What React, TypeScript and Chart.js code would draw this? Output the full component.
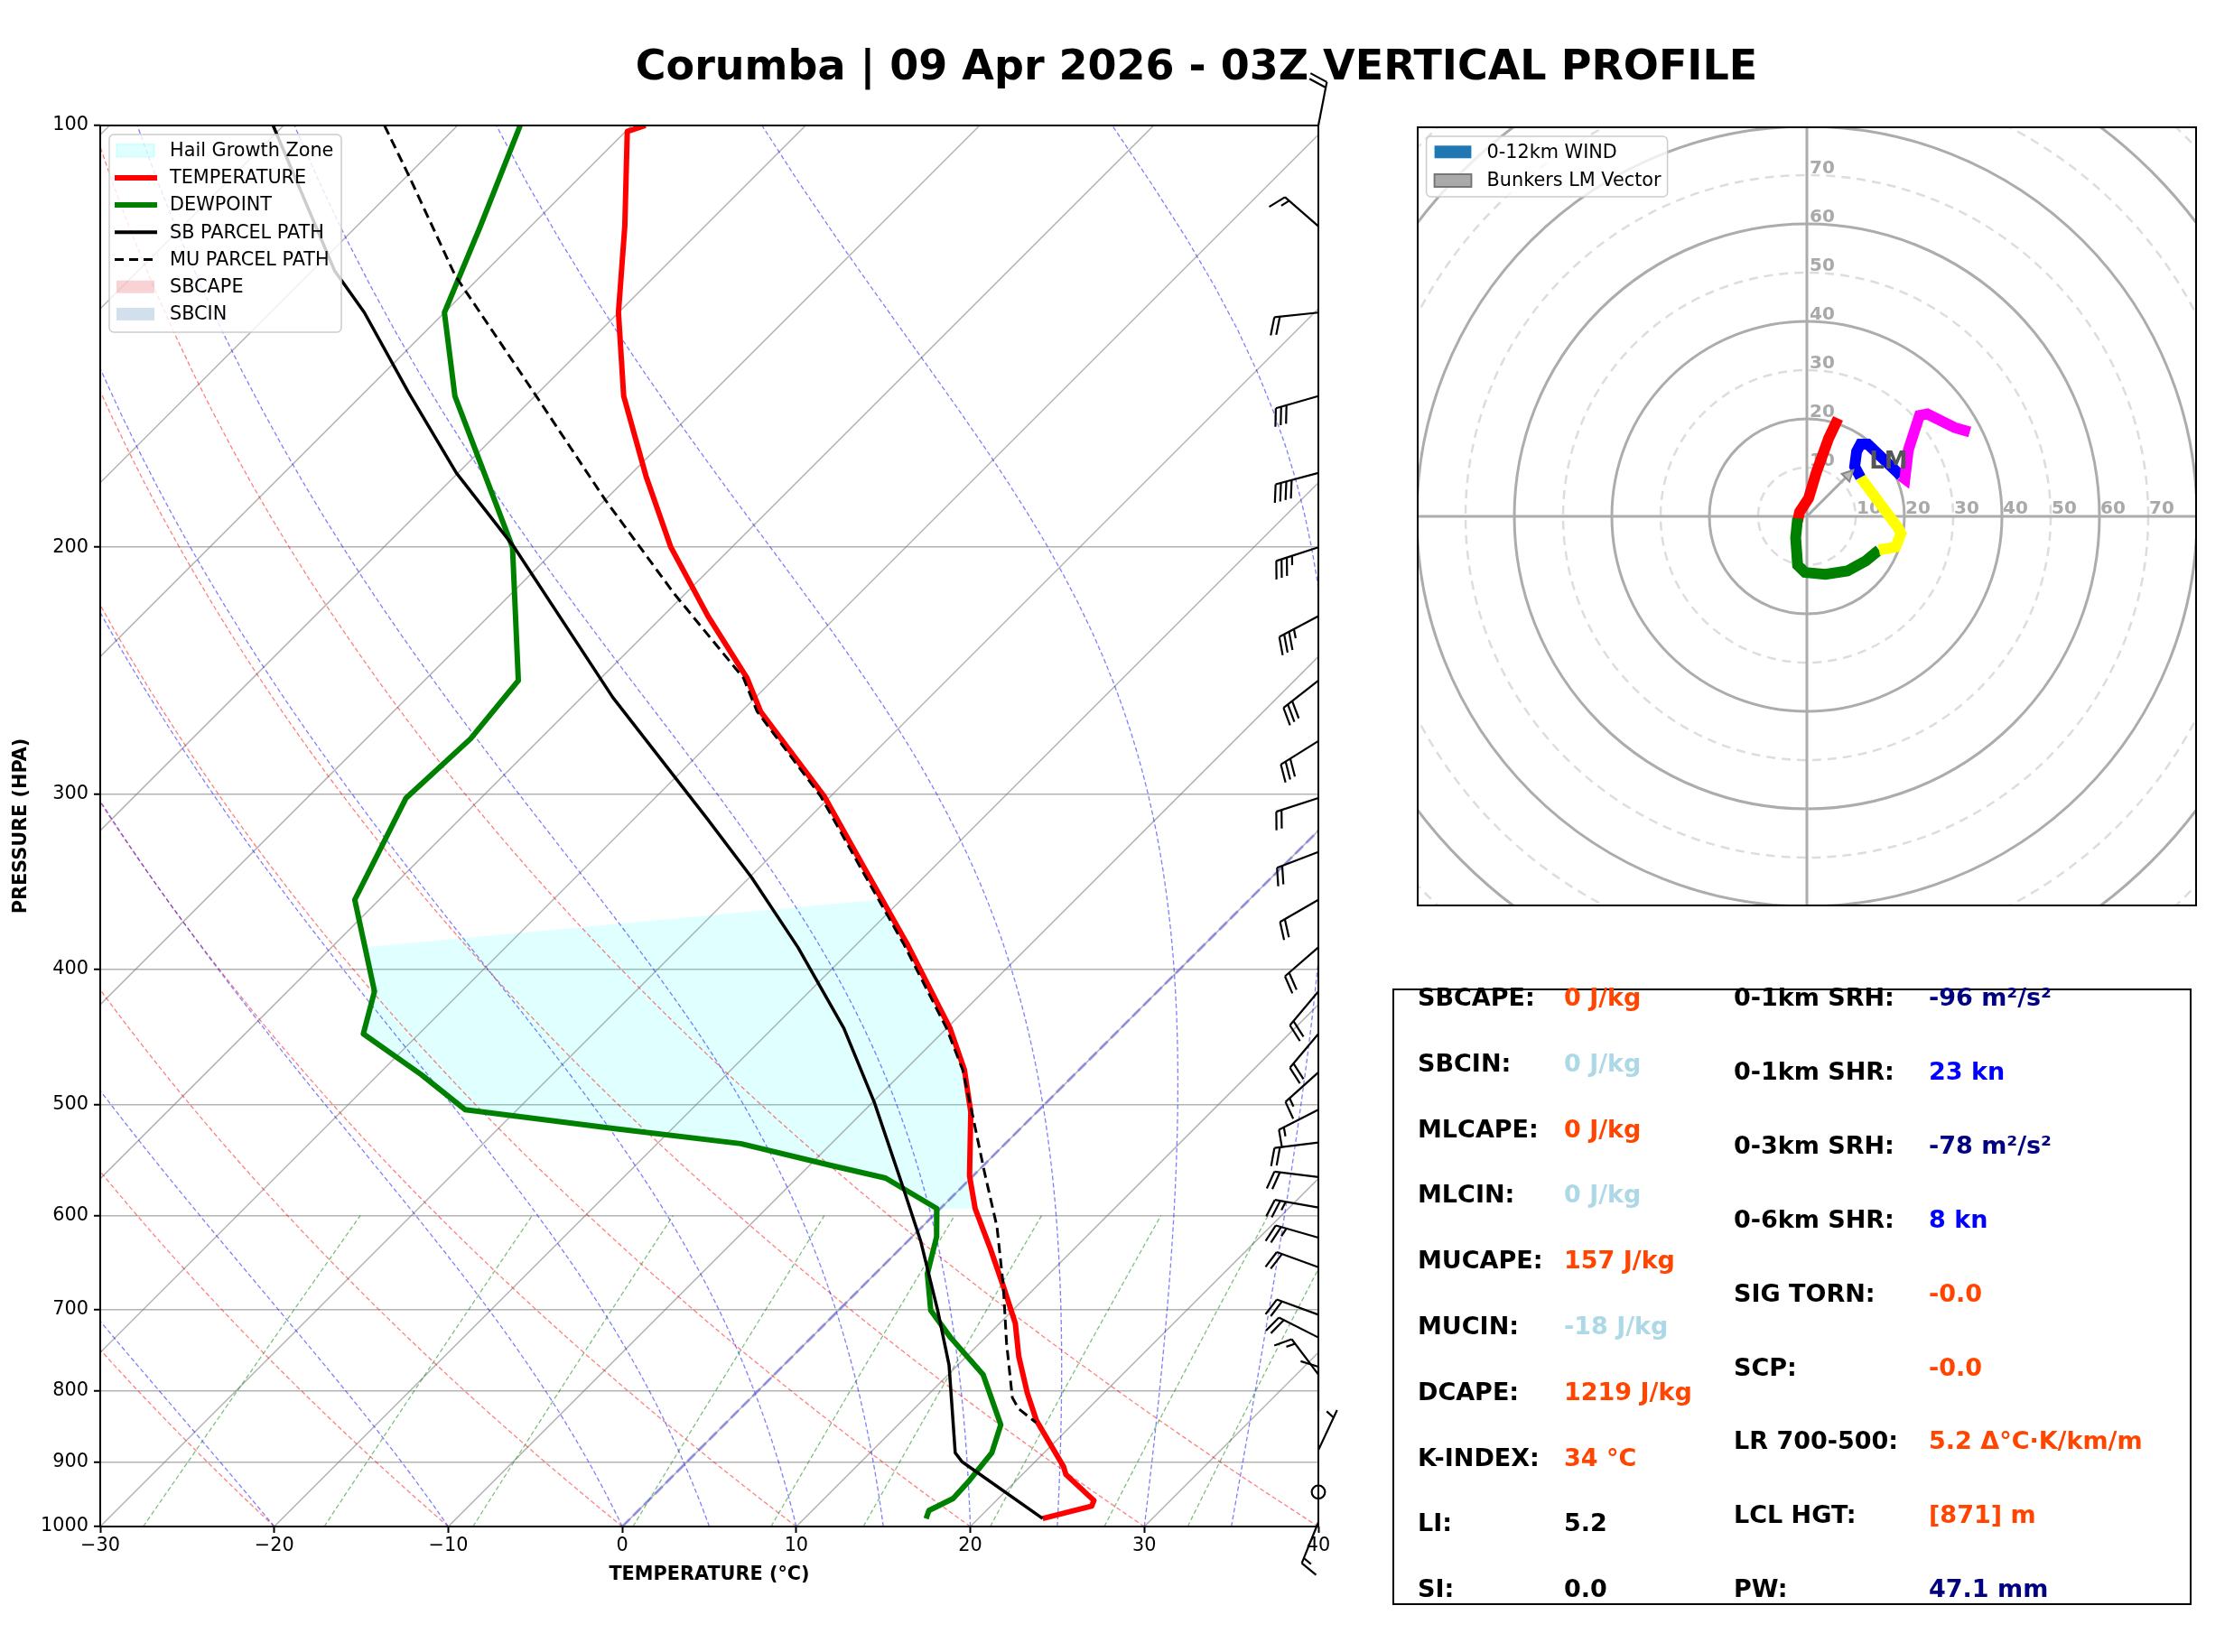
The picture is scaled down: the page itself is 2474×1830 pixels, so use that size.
import React, { useEffect, useRef } from "react";
import { Chart, registerables } from "chart.js";

Chart.register(...registerables);

const FAMILY = "DejaVu Sans";

// ---------------- Sounding profile (pressure hPa / °C) ----------------
const TEMP_P = [100, 101, 118, 136, 156, 178, 200, 224, 248, 262, 301, 341, 384, 441, 472, 506, 562, 593, 635, 674, 716, 756, 803, 840, 906, 918, 958, 967, 987];
const TEMP_C = [-79.2, -79.9, -74.6, -70.0, -64.9, -59.0, -53.5, -47.4, -41.6, -38.9, -30.4, -23.6, -17.1, -9.8, -6.6, -3.8, -0.2, 2.0, 5.3, 8.1, 10.9, 13.0, 15.6, 17.7, 21.9, 22.5, 25.6, 25.8, 23.7];

const DEW_P = [100, 118, 136, 156, 177, 200, 249, 274, 302, 357, 415, 445, 476, 504, 520, 533, 552, 564, 593, 621, 660, 701, 733, 779, 846, 886, 927, 955, 974, 987];
const DEW_C = [-86.4, -82.9, -80.0, -74.6, -68.5, -62.6, -54.6, -54.0, -54.3, -51.4, -45.0, -43.2, -37.5, -33.0, -23.3, -15.2, -8.9, -4.9, -0.2, 1.4, 3.0, 5.3, 8.0, 12.0, 15.9, 17.0, 17.3, 17.4, 16.7, 17.0];

const SB_P = [100, 127, 136, 155, 177, 200, 256, 312, 344, 386, 441, 498, 571, 625, 701, 767, 886, 899, 987];
const SB_C = [-100.6, -88.7, -84.6, -77.5, -70.1, -62.5, -48.2, -35.9, -29.9, -23.2, -15.9, -9.9, -3.5, 0.7, 5.7, 9.5, 14.9, 15.8, 23.7];

const MU_P = [100, 108, 128, 155, 185, 216, 248, 262, 301, 341, 384, 441, 472, 510, 558, 611, 674, 739, 809, 824, 843];
const MU_C = [-94.2, -90.2, -81.5, -70.3, -60.0, -50.6, -41.8, -39.1, -30.6, -23.8, -17.3, -10.0, -6.7, -3.4, 0.4, 4.3, 8.1, 11.5, 15.0, 16.0, 17.8];

// Hail growth zone outline (temperature side then dewpoint side)
const HGZ_P = [357, 384, 441, 472, 506, 562, 593, 593, 564, 552, 533, 520, 504, 476, 445, 415, 386];
const HGZ_C = [-21.3, -17.1, -9.8, -6.6, -3.8, -0.2, 1.9, -0.2, -4.9, -8.9, -15.2, -23.3, -33.0, -37.5, -43.2, -45.0, -48.2];

// Wind barbs
const WIND_P = [100, 118, 136, 156, 177, 200, 224, 249, 275, 302, 330, 357, 386, 415, 445, 474, 504, 532, 563, 592, 622, 653, 706, 733, 779, 827, 882, 945, 993];
const WIND_DIR = [11, 311, 264, 254, 255, 252, 242, 232, 238, 252, 249, 240, 229, 220, 220, 228, 243, 263, 277, 280, 286, 290, 290, 297, 323, 0, 25, 0, 202];
const WIND_SPD = [20, 15, 20, 30, 40, 35, 35, 30, 30, 20, 20, 20, 20, 20, 20, 15, 15, 20, 20, 25, 25, 20, 20, 20, 15, 10, 5, 0, 15];

// Axes / reference lines
const X_TICKS = [-30, -20, -10, 0, 10, 20, 30, 40];
const P_TICKS = [100, 200, 300, 400, 500, 600, 700, 800, 900, 1000];
const ISO_T = [-110, -100, -90, -80, -70, -60, -50, -40, -30, -20, -10, 0, 10, 20, 30, 40];
const DRY_T0 = [-40, -30, -20, -10, 0, 10, 20, 30, 40];
const MOIST_T0 = [-20, -10, 0, 5, 10, 15, 20, 25, 30, 35];
const MIX_W = [0.0004, 0.001, 0.002, 0.004, 0.007, 0.01, 0.016, 0.024, 0.032];
const MIX_P = [1000, 950, 900, 850, 800, 750, 700, 650, 600];

// Hodograph (knots)
const HODO_RED_U = [6.4, 4.5, 1.9, 0.35, -1.5, -1.9];
const HODO_RED_V = [20.1, 16.1, 8.9, 3.7, 0.9, -1.0];
const HODO_GREEN_U = [-1.9, -2.3, -1.9, -0.4, 3.8, 8.3, 12.1, 14.8];
const HODO_GREEN_V = [-0.4, -4.4, -10.0, -11.5, -11.9, -11.2, -9.1, -6.9];
const HODO_YELLOW_U = [14.8, 18.2, 19.3, 18.6, 11.0];
const HODO_YELLOW_V = [-6.9, -6.3, -3.5, -2.2, 8.0];
const HODO_BLUE_U = [11.0, 9.8, 10.2, 11.0, 12.5, 19.3];
const HODO_BLUE_V = [8.0, 10.2, 13.3, 14.8, 14.8, 8.3];
const HODO_MAG_U = [19.3, 20.1, 20.8, 23.1, 24.7, 30.3, 33.4];
const HODO_MAG_V = [8.3, 7.7, 13.6, 20.7, 21.0, 18.2, 17.3];
const LM_U = 9.5;
const LM_V = 9.5;
const HODO_RINGS = [10, 20, 30, 40, 50, 60, 70, 80, 90, 100, 110, 120];
const HODO_LABELS = [10, 20, 30, 40, 50, 60, 70];

// Stats table
const LEFT_LABELS = ["SBCAPE:", "SBCIN:", "MLCAPE:", "MLCIN:", "MUCAPE:", "MUCIN:", "DCAPE:", "K-INDEX:", "LI:", "SI:"];
const LEFT_VALUES = ["0 J/kg", "0 J/kg", "0 J/kg", "0 J/kg", "157 J/kg", "-18 J/kg", "1219 J/kg", "34 °C", "5.2", "0.0"];
const LEFT_COLORS = ["#ff4500", "#add8e6", "#ff4500", "#add8e6", "#ff4500", "#add8e6", "#ff4500", "#ff4500", "#000000", "#000000"];
const RIGHT_LABELS = ["0-1km SRH:", "0-1km SHR:", "0-3km SRH:", "0-6km SHR:", "SIG TORN:", "SCP:", "LR 700-500:", "LCL HGT:", "PW:"];
const RIGHT_VALUES = ["-96 m²/s²", "23 kn", "-78 m²/s²", "8 kn", "-0.0", "-0.0", "5.2 Δ°C·K/km/m", "[871] m", "47.1 mm"];
const RIGHT_COLORS = ["#000080", "#0000ff", "#000080", "#0000ff", "#ff4500", "#ff4500", "#ff4500", "#ff4500", "#000080"];

const TITLE = "Corumba | 09 Apr 2026 - 03Z VERTICAL PROFILE";

// ---------------- thermodynamics for reference lines ----------------
const RD = 287.04749, CPD = 1004.6662, LV = 2.50084e6, EPS = 0.6219569, KAPPA = RD / CPD;
const P_SAMPLES: number[] = [];
for (let p = 1000; p >= 100; p -= 10) P_SAMPLES.push(p);

function skewX(t: number, p: number, S: number) {
  return t + S * Math.log10(1000 / p);
}
function moistLapse(p: number, t: number) {
  const es = 6.112 * Math.exp((17.67 * (t - 273.15)) / (t - 29.65));
  const rs = (EPS * es) / (p - es);
  const frac = (RD * t + LV * rs) / (CPD + (LV * LV * rs * EPS) / (RD * t * t));
  return frac / p;
}
function moistProfile(t0: number) {
  let t = t0 + 273.15;
  let p = 1000;
  const out: number[] = [];
  for (const target of P_SAMPLES) {
    while (p > target + 1e-9) {
      const h = Math.max(target - p, -2);
      const k1 = moistLapse(p, t);
      const k2 = moistLapse(p + h / 2, t + (h / 2) * k1);
      const k3 = moistLapse(p + h / 2, t + (h / 2) * k2);
      const k4 = moistLapse(p + h, t + h * k3);
      t += (h / 6) * (k1 + 2 * k2 + 2 * k3 + k4);
      p += h;
    }
    out.push(t - 273.15);
  }
  return out;
}
function dewFromMix(w: number, p: number) {
  const e = (p * w) / (EPS + w);
  const l = Math.log(e / 6.112);
  return (243.5 * l) / (17.67 - l);
}

function prof(ps: number[], ts: number[], S: number) {
  return ps.map((p, i) => ({ x: skewX(ts[i], p, S), y: p }));
}
function lineDs(data: any[], color: string, width: number, extra: any = {}) {
  return {
    data,
    showLine: true,
    borderColor: color,
    borderWidth: width,
    pointRadius: 0,
    pointHoverRadius: 0,
    fill: false,
    tension: 0,
    borderJoinStyle: "round",
    borderCapStyle: "butt",
    ...extra,
  };
}

function buildSkewDatasets(S: number) {
  const ds: any[] = [];
  ds.push(lineDs(prof(HGZ_P, HGZ_C, S), "rgba(0,0,0,0)", 0, { fill: "shape", backgroundColor: "rgba(0,255,255,0.12)" }));
  for (const t of ISO_T)
    ds.push(lineDs([{ x: skewX(t, 1000, S), y: 1000 }, { x: skewX(t, 100, S), y: 100 }], "rgba(128,128,128,0.6)", 1.5));
  for (const t0 of DRY_T0) {
    const th = t0 + 273.15;
    ds.push(
      lineDs(
        P_SAMPLES.map((p) => ({ x: skewX(th * Math.pow(p / 1000, KAPPA) - 273.15, p, S), y: p })),
        "rgba(255,0,0,0.5)",
        1.3,
        { borderDash: [5, 3] }
      )
    );
  }
  for (const t0 of MOIST_T0) {
    const ts = moistProfile(t0);
    ds.push(lineDs(P_SAMPLES.map((p, i) => ({ x: skewX(ts[i], p, S), y: p })), "rgba(0,0,255,0.5)", 1.3, { borderDash: [5, 3] }));
  }
  for (const w of MIX_W) {
    ds.push(lineDs(MIX_P.map((p) => ({ x: skewX(dewFromMix(w, p), p, S), y: p })), "rgba(0,128,0,0.5)", 1.3, { borderDash: [5, 3] }));
  }
  ds.push(lineDs([{ x: skewX(0, 1000, S), y: 1000 }, { x: skewX(0, 100, S), y: 100 }], "rgba(100,100,230,0.55)", 3, { borderDash: [12, 5] }));
  ds.push(lineDs(prof(TEMP_P, TEMP_C, S), "#ff0000", 6));
  ds.push(lineDs(prof(DEW_P, DEW_C, S), "#008000", 6));
  ds.push(lineDs(prof(SB_P, SB_C, S), "#000000", 3.5));
  ds.push(lineDs(prof(MU_P, MU_C, S), "#000000", 3, { borderDash: [11, 6] }));
  ds.forEach((d, i) => (d.order = ds.length - i));
  return ds;
}

// ---------------- drawing helpers ----------------
function roundRectPath(ctx: CanvasRenderingContext2D, x: number, y: number, w: number, h: number, r: number) {
  ctx.beginPath();
  ctx.moveTo(x + r, y);
  ctx.lineTo(x + w - r, y);
  ctx.arcTo(x + w, y, x + w, y + r, r);
  ctx.lineTo(x + w, y + h - r);
  ctx.arcTo(x + w, y + h, x + w - r, y + h, r);
  ctx.lineTo(x + r, y + h);
  ctx.arcTo(x, y + h, x, y + h - r, r);
  ctx.lineTo(x, y + r);
  ctx.arcTo(x, y, x + r, y, r);
  ctx.closePath();
}

function drawBarb(ctx: CanvasRenderingContext2D, x0: number, y0: number, dir: number, spd: number, L: number) {
  const sp = Math.round(spd / 5) * 5;
  if (sp === 0) {
    ctx.beginPath();
    ctx.arc(x0, y0, 0.15 * L, 0, Math.PI * 2);
    ctx.stroke();
    return;
  }
  const th = (dir * Math.PI) / 180;
  const dx = Math.sin(th), dy = -Math.cos(th);
  const px = dy, py = -dx;
  const tx = x0 + L * dx, ty = y0 + L * dy;
  ctx.beginPath();
  ctx.moveTo(x0, y0);
  ctx.lineTo(tx, ty);
  ctx.stroke();
  let rem = sp;
  const nFlag = Math.floor(rem / 50);
  rem -= nFlag * 50;
  const nFull = Math.floor(rem / 10);
  rem -= nFull * 10;
  const half = rem >= 5;
  const spacing = 0.125 * L, fh = 0.4 * L, fw = 0.25 * L;
  let off = 0;
  for (let i = 0; i < nFlag; i++) {
    const ax = tx + dx * off, ay = ty + dy * off;
    ctx.beginPath();
    ctx.moveTo(ax, ay);
    ctx.lineTo(ax + px * fh - (dx * fw) / 2, ay + py * fh - (dy * fw) / 2);
    ctx.lineTo(ax - dx * fw, ay - dy * fw);
    ctx.closePath();
    ctx.fill();
    ctx.stroke();
    off -= fw + spacing;
  }
  for (let i = 0; i < nFull; i++) {
    const ax = tx + dx * off, ay = ty + dy * off;
    ctx.beginPath();
    ctx.moveTo(ax, ay);
    ctx.lineTo(ax + px * fh + (dx * fw) / 2, ay + py * fh + (dy * fw) / 2);
    ctx.stroke();
    off -= spacing;
  }
  if (half) {
    if (off === 0) off -= 1.5 * spacing;
    const ax = tx + dx * off, ay = ty + dy * off;
    ctx.beginPath();
    ctx.moveTo(ax, ay);
    ctx.lineTo(ax + (px * fh) / 2 + (dx * fw) / 4, ay + (py * fh) / 2 + (dy * fw) / 4);
    ctx.stroke();
  }
}

const SKEW_LEGEND = [
  { label: "Hail Growth Zone", kind: "patch", fill: "rgba(0,255,255,0.12)", stroke: "rgba(0,255,255,0.15)" },
  { label: "TEMPERATURE", kind: "line", color: "#ff0000", width: 6 },
  { label: "DEWPOINT", kind: "line", color: "#008000", width: 6 },
  { label: "SB PARCEL PATH", kind: "line", color: "#000000", width: 4 },
  { label: "MU PARCEL PATH", kind: "line", color: "#000000", width: 3, dash: [10, 6] },
  { label: "SBCAPE", kind: "patch", fill: "rgba(220,30,40,0.2)" },
  { label: "SBCIN", kind: "patch", fill: "rgba(70,130,180,0.25)" },
];

const skewPlugin = {
  id: "skewDecor",
  afterDatasetsDraw(chart: any) {
    const { ctx, chartArea: a } = chart;
    const yS = chart.scales.y;
    // legend
    ctx.save();
    const lx = a.left + 10, ly = a.top + 10;
    roundRectPath(ctx, lx, ly, 257, 219, 5);
    ctx.fillStyle = "rgba(255,255,255,0.8)";
    ctx.fill();
    ctx.strokeStyle = "#cccccc";
    ctx.lineWidth = 1.5;
    ctx.stroke();
    ctx.font = `20.8px ${FAMILY}`;
    ctx.textBaseline = "middle";
    SKEW_LEGEND.forEach((it: any, i: number) => {
      const cy = ly + 17.7 + i * 30.2;
      if (it.kind === "patch") {
        ctx.fillStyle = it.fill;
        ctx.fillRect(a.left + 18, cy - 7, 42, 14);
        if (it.stroke) {
          ctx.strokeStyle = it.stroke;
          ctx.lineWidth = 1.5;
          ctx.strokeRect(a.left + 18, cy - 7, 42, 14);
        }
      } else {
        ctx.beginPath();
        ctx.setLineDash(it.dash || []);
        ctx.strokeStyle = it.color;
        ctx.lineWidth = it.width;
        ctx.moveTo(a.left + 16, cy);
        ctx.lineTo(a.left + 63, cy);
        ctx.stroke();
        ctx.setLineDash([]);
      }
      ctx.fillStyle = "#000";
      ctx.fillText(it.label, a.left + 77, cy + 1);
    });
    ctx.restore();
    // spines
    ctx.save();
    ctx.strokeStyle = "#000";
    ctx.lineWidth = 2;
    ctx.strokeRect(a.left, a.top, a.right - a.left, a.bottom - a.top);
    ctx.restore();
    // barbs
    ctx.save();
    ctx.strokeStyle = "#000";
    ctx.fillStyle = "#000";
    ctx.lineWidth = 2.2;
    ctx.lineJoin = "round";
    WIND_P.forEach((p, i) => drawBarb(ctx, a.right, yS.getPixelForValue(p), WIND_DIR[i], WIND_SPD[i], 49));
    ctx.restore();
  },
};

function skewConfig(S: number): any {
  const tickFont = { family: FAMILY, size: 20.8 };
  const titleFont = { family: FAMILY, size: 20.8, weight: "bold" };
  return {
    type: "scatter",
    data: { datasets: buildSkewDatasets(S) },
    options: {
      animation: false,
      responsive: false,
      events: [],
      layout: { padding: { left: 0, top: 139, right: 100, bottom: 0 } },
      plugins: { legend: { display: false }, tooltip: { enabled: false }, title: { display: false } },
      scales: {
        x: {
          type: "linear",
          position: "bottom",
          min: -30,
          max: 40,
          afterBuildTicks: (s: any) => {
            s.ticks = X_TICKS.map((v) => ({ value: v }));
          },
          afterFit: (s: any) => {
            s.height = 139;
          },
          ticks: {
            font: tickFont,
            color: "#000",
            padding: 2,
            maxRotation: 0,
            autoSkip: false,
            callback: (v: number) => (v < 0 ? "\u2212" + Math.abs(v) : String(v)),
          },
          grid: { drawOnChartArea: false, drawTicks: true, tickLength: 7, tickColor: "#000", tickWidth: 2 },
          border: { display: false },
          title: { display: true, text: "TEMPERATURE (°C)", font: titleFont, color: "#000", padding: { top: 0, bottom: 73 } },
        },
        y: {
          type: "logarithmic",
          position: "left",
          min: 100,
          max: 1000,
          reverse: true,
          afterBuildTicks: (s: any) => {
            s.ticks = P_TICKS.map((v) => ({ value: v }));
          },
          afterFit: (s: any) => {
            s.width = 111;
          },
          ticks: { font: tickFont, color: "#000", padding: 6, autoSkip: false, callback: (v: number) => String(v) },
          grid: { color: "rgba(128,128,128,0.6)", lineWidth: 1.5, drawTicks: true, tickLength: 7, tickColor: "#000", tickWidth: 2 },
          border: { display: false },
          title: { display: true, text: "PRESSURE (HPA)", font: titleFont, color: "#000", padding: { top: 11, bottom: 0 } },
        },
      },
    },
    plugins: [skewPlugin],
  };
}

// ---------------- hodograph ----------------
const HODO_LEGEND = [
  { label: "0-12km WIND", fill: "#1f77b4", stroke: null },
  { label: "Bunkers LM Vector", fill: "#aaaaaa", stroke: "#777777" },
];

const hodoPlugin = {
  id: "hodoDecor",
  beforeDatasetsDraw(chart: any) {
    const { ctx, chartArea: a, scales } = chart;
    const x = scales.x, y = scales.y;
    const cx = x.getPixelForValue(0), cy = y.getPixelForValue(0);
    ctx.save();
    ctx.beginPath();
    ctx.rect(a.left, a.top, a.right - a.left, a.bottom - a.top);
    ctx.clip();
    for (const r of HODO_RINGS) {
      const rad = x.getPixelForValue(r) - cx;
      ctx.beginPath();
      ctx.arc(cx, cy, rad, 0, Math.PI * 2);
      if (r % 20 === 0) {
        ctx.setLineDash([]);
        ctx.strokeStyle = "#acacac";
        ctx.lineWidth = 3;
      } else {
        ctx.setLineDash([10, 7]);
        ctx.strokeStyle = "#dddddd";
        ctx.lineWidth = 2.5;
      }
      ctx.stroke();
    }
    ctx.setLineDash([]);
    ctx.strokeStyle = "#acacac";
    ctx.lineWidth = 3;
    ctx.beginPath();
    ctx.moveTo(a.left, cy);
    ctx.lineTo(a.right, cy);
    ctx.moveTo(cx, a.top);
    ctx.lineTo(cx, a.bottom);
    ctx.stroke();
    ctx.fillStyle = "#a9a9a9";
    ctx.font = `bold 20px ${FAMILY}`;
    ctx.textBaseline = "alphabetic";
    ctx.textAlign = "left";
    for (const r of HODO_LABELS) {
      ctx.fillText(String(r), cx + 3, y.getPixelForValue(r) - 2);
      ctx.fillText(String(r), x.getPixelForValue(r) + 1, cy - 3);
    }
    ctx.restore();
  },
  afterDatasetsDraw(chart: any) {
    const { ctx, chartArea: a, scales } = chart;
    const x = scales.x, y = scales.y;
    const cx = x.getPixelForValue(0), cy = y.getPixelForValue(0);
    const tx = x.getPixelForValue(LM_U), ty = y.getPixelForValue(LM_V);
    ctx.save();
    ctx.strokeStyle = "#aaaaaa";
    ctx.lineWidth = 3;
    ctx.beginPath();
    ctx.moveTo(cx, cy);
    ctx.lineTo(tx, ty);
    ctx.stroke();
    const ang = Math.atan2(ty - cy, tx - cx);
    const hl = 12, hw = 6;
    const bx = tx - hl * Math.cos(ang), by = ty - hl * Math.sin(ang);
    ctx.beginPath();
    ctx.moveTo(tx, ty);
    ctx.lineTo(bx + hw * Math.sin(ang), by - hw * Math.cos(ang));
    ctx.lineTo(bx - hw * Math.sin(ang), by + hw * Math.cos(ang));
    ctx.closePath();
    ctx.fillStyle = "#bbbbbb";
    ctx.fill();
    ctx.strokeStyle = "#888888";
    ctx.lineWidth = 2;
    ctx.stroke();
    ctx.fillStyle = "#555555";
    ctx.font = `bold 26px ${FAMILY}`;
    ctx.textBaseline = "middle";
    ctx.fillText("LM", tx + 18, ty - 8);
    // legend
    const lx = a.left + 10.6, ly = a.top + 11;
    roundRectPath(ctx, lx, ly, 267, 67, 5);
    ctx.fillStyle = "rgba(255,255,255,0.8)";
    ctx.fill();
    ctx.strokeStyle = "#cccccc";
    ctx.lineWidth = 1.5;
    ctx.stroke();
    ctx.font = `20.8px ${FAMILY}`;
    HODO_LEGEND.forEach((it: any, i: number) => {
      const yy = a.top + 28.3 + i * 31.7;
      ctx.fillStyle = it.fill;
      ctx.fillRect(a.left + 19.6, yy - 7, 40.8, 14);
      if (it.stroke) {
        ctx.strokeStyle = it.stroke;
        ctx.lineWidth = 2;
        ctx.strokeRect(a.left + 19.6, yy - 7, 40.8, 14);
      }
      ctx.fillStyle = "#000";
      ctx.fillText(it.label, a.left + 77.5, yy + 1);
    });
    // frame
    ctx.strokeStyle = "#000";
    ctx.lineWidth = 2;
    ctx.strokeRect(a.left + 1, a.top + 1, a.right - a.left - 2, a.bottom - a.top - 2);
    ctx.restore();
  },
};

function hodoSeg(us: number[], vs: number[], color: string) {
  return {
    data: us.map((u, i) => ({ x: u, y: vs[i] })),
    showLine: true,
    borderColor: color,
    borderWidth: 12,
    pointRadius: 0,
    pointHoverRadius: 0,
    borderCapStyle: "butt",
    borderJoinStyle: "miter",
    tension: 0,
    fill: false,
  };
}

function hodoConfig(): any {
  const ds: any[] = [
    hodoSeg(HODO_RED_U, HODO_RED_V, "#ff0000"),
    hodoSeg(HODO_GREEN_U, HODO_GREEN_V, "#008000"),
    hodoSeg(HODO_YELLOW_U, HODO_YELLOW_V, "#ffff00"),
    hodoSeg(HODO_BLUE_U, HODO_BLUE_V, "#0000ff"),
    hodoSeg(HODO_MAG_U, HODO_MAG_V, "#ff00ff"),
  ];
  ds.forEach((d, i) => (d.order = ds.length - i));
  return {
    type: "scatter",
    data: { datasets: ds },
    options: {
      animation: false,
      responsive: false,
      events: [],
      layout: { padding: 0 },
      plugins: { legend: { display: false }, tooltip: { enabled: false } },
      scales: {
        x: { type: "linear", min: -80, max: 80, display: false },
        y: { type: "linear", min: -80, max: 80, display: false },
      },
    },
    plugins: [hodoPlugin],
  };
}

export default function App() {
  const skewRef = useRef<HTMLCanvasElement>(null);
  const hodoRef = useRef<HTMLCanvasElement>(null);

  useEffect(() => {
    const skew = new Chart(skewRef.current as HTMLCanvasElement, skewConfig(80.53));
    const a = skew.chartArea;
    const S = ((a.bottom - a.top) * 70) / (a.right - a.left);
    skew.data.datasets = buildSkewDatasets(S) as any;
    skew.update();
    const hodo = new Chart(hodoRef.current as HTMLCanvasElement, hodoConfig());
    return () => {
      skew.destroy();
      hodo.destroy();
    };
  }, []);

  const statText = (txt: string, left: number, yc: number, color: string, key: string) => (
    <div
      key={key}
      style={{
        position: "absolute",
        left,
        top: yc - 13,
        fontFamily: FAMILY,
        fontWeight: "bold",
        fontSize: 27,
        lineHeight: "27px",
        color,
        whiteSpace: "nowrap",
      }}
    >
      {txt}
    </div>
  );

  return (
    <div style={{ position: "absolute", left: 0, top: 0, width: 2474, height: 1830, background: "#ffffff", overflow: "hidden" }}>
      <canvas
        ref={skewRef}
        width={1560}
        height={1830}
        style={{ position: "absolute", left: 0, top: 0, width: 1560, height: 1830, display: "block" }}
      />
      <canvas
        ref={hodoRef}
        width={864}
        height={864}
        style={{ position: "absolute", left: 1569, top: 140, width: 864, height: 864, display: "block" }}
      />
      <div
        style={{
          position: "absolute",
          left: 0,
          width: 2650,
          top: 49,
          textAlign: "center",
          fontFamily: FAMILY,
          fontWeight: "bold",
          fontSize: 46,
          lineHeight: "46px",
          color: "#000",
          whiteSpace: "nowrap",
          pointerEvents: "none",
        }}
      >
        {TITLE}
      </div>
      <div
        style={{
          position: "absolute",
          left: 1542,
          top: 1095,
          width: 885,
          height: 683,
          border: "2px solid #000",
          boxSizing: "border-box",
        }}
      />
      {LEFT_LABELS.map((l, i) => statText(l, 1570, 1104 + i * 72.8, "#000000", "ll" + i))}
      {LEFT_VALUES.map((v, i) => statText(v, 1732, 1104 + i * 72.8, LEFT_COLORS[i], "lv" + i))}
      {RIGHT_LABELS.map((l, i) => statText(l, 1920, 1104 + i * 81.9, "#000000", "rl" + i))}
      {RIGHT_VALUES.map((v, i) => statText(v, 2136, 1104 + i * 81.9, RIGHT_COLORS[i], "rv" + i))}
    </div>
  );
}
